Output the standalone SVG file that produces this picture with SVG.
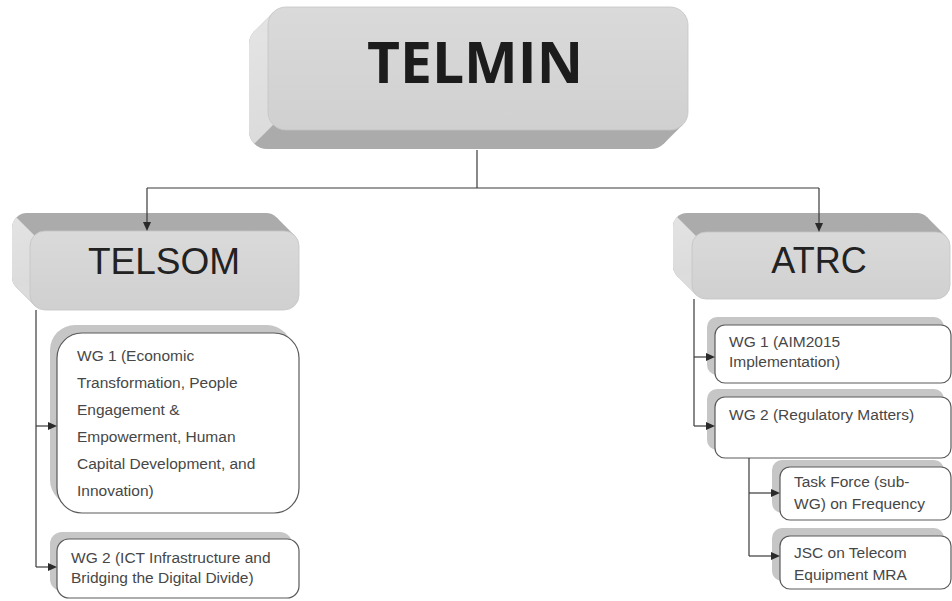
<svg xmlns="http://www.w3.org/2000/svg" width="952" height="601" viewBox="0 0 952 601">
  <style>
    .front { fill: url(#faceGrad); stroke: #c4c4c4; stroke-width: 0.8; }
    .side-light { fill: url(#sideGrad); }
    .side-dark { fill: #ababab; }
    .card { fill: #ffffff; stroke: #5a5a5a; stroke-width: 1.2; }
    .card-shadow { fill: #c6c6c6; }
    .wire { fill: none; stroke: #3a3a3a; stroke-width: 1.2; }
    .tip { fill: #2a2a2a; }
    .label { font-family: "Liberation Sans", Arial, sans-serif; font-size: 15.5px; fill: #474747; }
    .title { font-family: "Liberation Sans", Arial, sans-serif; fill: #222222; text-anchor: middle; }
    .head { font-family: "Open Sans", "Liberation Sans", sans-serif; font-weight: 700; fill: #1c1c1c; text-anchor: middle; }
  </style>
  <defs>
    <linearGradient id="faceGrad" x1="0" y1="0" x2="0" y2="1">
      <stop offset="0" stop-color="#dadada"/>
      <stop offset="1" stop-color="#d0d0d0"/>
    </linearGradient>
    <linearGradient id="sideGrad" x1="0" y1="0" x2="1" y2="1">
      <stop offset="0" stop-color="#e4e4e4"/>
      <stop offset="1" stop-color="#d2d2d2"/>
    </linearGradient>
    <!-- arrowhead pointing right, tip at the origin -->
    <path id="tipRight" d="M0,0 L-9,-4 L-9,4 Z"/>
    <!-- left faces of the extruded blocks -->
    <clipPath id="leftTelmin"><polygon points="0,0 398,0 0,398"/></clipPath>
    <clipPath id="leftTelsom"><polygon points="0,201 400,601 0,601"/></clipPath>
    <clipPath id="leftAtrc"><polygon points="600,140 1061,601 600,601"/></clipPath>
  </defs>

  <rect width="952" height="601" fill="#ffffff"/>

  <!-- top block -->
  <g id="telmin">
    <g class="side-dark">
      <rect x="249" y="26" width="420" height="123" rx="18"/>
      <polygon points="273.3,12.3 682.7,124.7 663.7,143.7 254.3,31.3"/>
    </g>
    <g class="side-light" clip-path="url(#leftTelmin)">
      <rect x="249" y="26" width="420" height="123" rx="18"/>
      <polygon points="273.3,12.3 682.7,124.7 663.7,143.7 254.3,31.3"/>
    </g>
    <rect class="front" x="268" y="7" width="420" height="123" rx="18"/>
    <text class="head" x="475" y="83" font-size="57">TELMIN</text>
  </g>

  <!-- left branch block -->
  <g id="telsom">
    <g class="side-dark">
      <rect x="12" y="213" width="269" height="79" rx="15"/>
      <polygon points="294.6,235.4 276.6,217.4 16.4,287.6 34.4,305.6"/>
    </g>
    <g class="side-light" clip-path="url(#leftTelsom)">
      <rect x="12" y="213" width="269" height="79" rx="15"/>
      <polygon points="294.6,235.4 276.6,217.4 16.4,287.6 34.4,305.6"/>
    </g>
    <rect class="front" x="30" y="231" width="269" height="79" rx="15"/>
    <text class="title" x="164" y="274" font-size="37">TELSOM</text>
  </g>

  <!-- right branch block -->
  <g id="atrc">
    <g class="side-dark">
      <rect x="673" y="213" width="258" height="67" rx="14"/>
      <polygon points="945.9,236.1 926.9,217.1 677.1,275.9 696.1,294.9"/>
    </g>
    <g class="side-light" clip-path="url(#leftAtrc)">
      <rect x="673" y="213" width="258" height="67" rx="14"/>
      <polygon points="945.9,236.1 926.9,217.1 677.1,275.9 696.1,294.9"/>
    </g>
    <rect class="front" x="692" y="232" width="258" height="67" rx="14"/>
    <text class="title" x="819" y="273" font-size="36">ATRC</text>
  </g>

  <!-- TELSOM working groups -->
  <g id="telsom-wg1">
    <rect class="card-shadow" x="50" y="325" width="242" height="180" rx="25"/>
    <rect class="card" x="57" y="333" width="242" height="180" rx="25"/>
    <text class="label">
      <tspan x="77" y="361">WG 1 (Economic</tspan>
      <tspan x="77" y="388">Transformation, People</tspan>
      <tspan x="77" y="415">Engagement &amp;</tspan>
      <tspan x="77" y="442">Empowerment, Human</tspan>
      <tspan x="77" y="469">Capital Development, and</tspan>
      <tspan x="77" y="496">Innovation)</tspan>
    </text>
  </g>

  <g id="telsom-wg2">
    <rect class="card-shadow" x="50" y="532" width="242" height="59" rx="12"/>
    <rect class="card" x="57" y="539" width="242" height="59" rx="12"/>
    <text class="label">
      <tspan x="71" y="563">WG 2 (ICT Infrastructure and</tspan>
      <tspan x="71" y="583">Bridging the Digital Divide)</tspan>
    </text>
  </g>

  <!-- ATRC working groups -->
  <g id="atrc-wg1">
    <rect class="card-shadow" x="707" y="317" width="237" height="58" rx="10"/>
    <rect class="card" x="715" y="325" width="236" height="58" rx="10"/>
    <text class="label">
      <tspan x="729" y="347">WG 1 (AIM2015</tspan>
      <tspan x="729" y="367">Implementation)</tspan>
    </text>
  </g>

  <g id="atrc-wg2">
    <rect class="card-shadow" x="707" y="389" width="237" height="61" rx="10"/>
    <rect class="card" x="715" y="397" width="236" height="61" rx="10"/>
    <text class="label" x="729" y="420">WG 2 (Regulatory Matters)</text>
  </g>

  <g id="task-force">
    <rect class="card-shadow" x="772" y="460" width="172" height="53" rx="10"/>
    <rect class="card" x="780" y="467" width="171" height="53" rx="10"/>
    <text class="label">
      <tspan x="794" y="487">Task Force (sub-</tspan>
      <tspan x="794" y="509">WG) on Frequency</tspan>
    </text>
  </g>

  <g id="jsc-mra">
    <rect class="card-shadow" x="772" y="528" width="172" height="53" rx="10"/>
    <rect class="card" x="780" y="536" width="171" height="53" rx="10"/>
    <text class="label">
      <tspan x="794" y="558">JSC on Telecom</tspan>
      <tspan x="794" y="580">Equipment MRA</tspan>
    </text>
  </g>

  <!-- connectors, drawn over the block faces and card shadows -->
  <g id="connectors">
    <path class="wire" d="M477,150 V188"/>
    <path class="wire" d="M147,188 H819"/>
    <path class="wire" d="M147,188 V223"/>
    <path class="wire" d="M819,188 V224"/>
    <path class="wire" d="M36,310 V567"/>
    <path class="wire" d="M36,426 H50"/>
    <path class="wire" d="M36,567 H50"/>
    <path class="wire" d="M694,299 V426"/>
    <path class="wire" d="M694,357 H708"/>
    <path class="wire" d="M694,426 H708"/>
    <path class="wire" d="M749,458 V556"/>
    <path class="wire" d="M749,493 H773"/>
    <path class="wire" d="M749,556 H773"/>
    <g class="tip">
      <use href="#tipRight" transform="translate(147,231) rotate(90)"/>
      <use href="#tipRight" transform="translate(819,232) rotate(90)"/>
      <use href="#tipRight" transform="translate(57,426)"/>
      <use href="#tipRight" transform="translate(57,567)"/>
      <use href="#tipRight" transform="translate(715,357)"/>
      <use href="#tipRight" transform="translate(715,426)"/>
      <use href="#tipRight" transform="translate(780,493)"/>
      <use href="#tipRight" transform="translate(780,556)"/>
    </g>
  </g>
</svg>
